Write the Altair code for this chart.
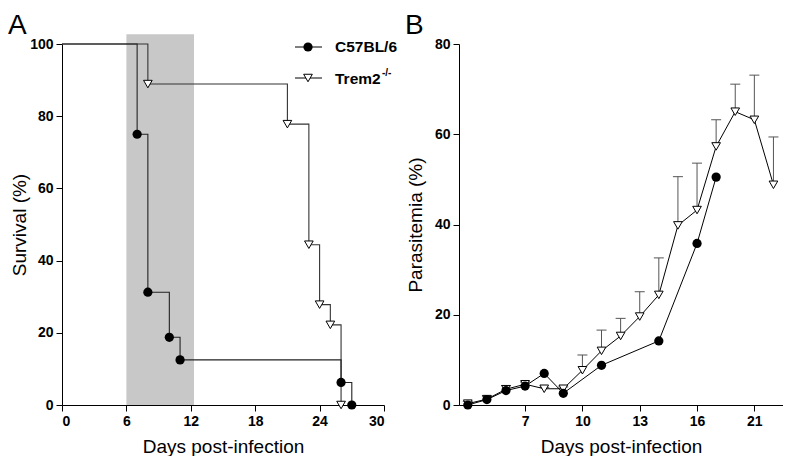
import altair as alt
import pandas as pd

FONT = "Liberation Sans"

# ---------------- Panel A: survival ----------------
a_c57_days = [0, 7, 8, 10, 11, 26, 27]
a_c57_surv = [100, 75, 31.25, 18.75, 12.5, 6.25, 0]
a_trem_days = [0, 8, 21, 23, 24, 25, 26]
a_trem_surv = [100, 88.9, 77.8, 44.4, 27.8, 22.2, 0]
shade_days = [6, 12.3]
shade_surv = [0, 102.7]
a_ticks_x = [0, 6, 12, 18, 24, 30]
a_ticks_y = [0, 20, 40, 60, 80, 100]
legend_labels = ["C57BL/6", "Trem2"]

# ---------------- Panel B: parasitemia ----------------
b_c57_days = [4, 5, 6, 7, 8, 9, 11, 14, 16, 17]
b_c57_para = [0, 1.2, 3.2, 4.2, 7.0, 2.6, 8.8, 14.2, 35.8, 50.5]
b_trem_days = [4, 5, 6, 7, 8, 9, 10, 11, 12, 13, 14, 15, 16, 17, 18, 19, 20]
b_trem_para = [0.3, 1.3, 3.5, 4.6, 3.6, 3.6, 7.7, 12.0, 15.3, 19.6, 24.4,
               39.8, 43.2, 57.3, 65.0, 63.2, 48.8]
b_trem_sd = [0.5, 0.7, 0.8, 0.5, 0.3, 0.4, 3.4, 4.6, 3.9, 5.5, 8.2,
             10.8, 10.4, 5.9, 6.1, 9.9, 10.6]
b_ticks_x = [7, 10, 13, 16, 19]
b_tick_labels = ["7", "10", "13", "16", "21"]
b_ticks_y = [0, 20, 40, 60, 80]

W_A, W_B, H = 322, 324, 361
LINE = "#222222"
ERR = "#555555"

axis_common = dict(
    grid=False, domainColor="black", tickColor="black", domainWidth=1,
    tickWidth=1, tickSize=6, labelFont=FONT, labelFontWeight="bold",
    labelFontSize=14, labelColor="black", labelPadding=3, titleFont=FONT,
    titleFontWeight="normal", titleFontSize=19, titleColor="black",
)

# ---- Panel A ----
xa = alt.Scale(domain=[0, 30], nice=False)
ya = alt.Scale(domain=[0, 100], nice=False)
ax_xa = alt.Axis(values=a_ticks_x, title="Days post-infection", titlePadding=9, **axis_common)
ax_ya = alt.Axis(values=a_ticks_y, title="Survival (%)", titlePadding=0, **axis_common)

dA_c57 = pd.DataFrame({"day": a_c57_days, "surv": a_c57_surv})
dA_trem = pd.DataFrame({"day": a_trem_days, "surv": a_trem_surv})
dA_shade = pd.DataFrame({"d1": [shade_days[0]], "d2": [shade_days[1]],
                         "s1": [shade_surv[0]], "s2": [shade_surv[1]]})

shade = alt.Chart(dA_shade).mark_rect(color="#c8c8c8").encode(
    x=alt.X("d1:Q", scale=xa, axis=ax_xa), x2="d2:Q",
    y=alt.Y("s1:Q", scale=ya, axis=ax_ya), y2="s2:Q")

step_trem = alt.Chart(dA_trem).mark_line(interpolate="step-after", color="#333333", strokeWidth=1.1).encode(
    x=alt.X("day:Q", scale=xa), y=alt.Y("surv:Q", scale=ya))
step_c57 = alt.Chart(dA_c57).mark_line(interpolate="step-after", color=LINE, strokeWidth=1.1).encode(
    x=alt.X("day:Q", scale=xa), y=alt.Y("surv:Q", scale=ya))
pts_trem = alt.Chart(dA_trem.iloc[1:]).mark_point(
    shape="triangle-down", filled=True, fill="white", stroke="black", strokeWidth=1, size=75, opacity=1
).encode(x=alt.X("day:Q", scale=xa), y=alt.Y("surv:Q", scale=ya))
pts_c57 = alt.Chart(dA_c57.iloc[1:]).mark_point(
    shape="circle", filled=True, color="black", size=85, opacity=1
).encode(x=alt.X("day:Q", scale=xa), y=alt.Y("surv:Q", scale=ya))

# manual legend (positioned relative to the right edge of the plot)
dleg = pd.DataFrame({"label": legend_labels, "row": [0, 1]})
R = W_A
leg_line = alt.Chart(dleg).mark_rule(color="black", strokeWidth=1).encode(
    x=alt.value(R - 89), x2=alt.value(R - 62), y=alt.value(3)).transform_filter("datum.row == 0")
leg_line2 = alt.Chart(dleg).mark_rule(color="black", strokeWidth=1).encode(
    x=alt.value(R - 89), x2=alt.value(R - 62), y=alt.value(34)).transform_filter("datum.row == 1")
leg_c = alt.Chart(dleg).mark_point(shape="circle", filled=True, color="black", size=85, opacity=1).encode(
    x=alt.value(R - 76), y=alt.value(3)).transform_filter("datum.row == 0")
leg_t = alt.Chart(dleg).mark_point(shape="triangle-down", filled=True, fill="white", stroke="black",
                                   strokeWidth=1, size=75, opacity=1).encode(
    x=alt.value(R - 76), y=alt.value(34)).transform_filter("datum.row == 1")
leg_txt = alt.Chart(dleg).mark_text(align="left", baseline="middle", font=FONT, fontWeight="bold",
                                    fontSize=15.5, color="black").encode(
    x=alt.value(R - 49), y=alt.value(3), text="label:N").transform_filter("datum.row == 0")
leg_txt2 = alt.Chart(dleg).mark_text(align="left", baseline="middle", font=FONT, fontWeight="bold",
                                     fontSize=15.5, color="black").encode(
    x=alt.value(R - 49), y=alt.value(35), text="label:N").transform_filter("datum.row == 1")
leg_sup = alt.Chart(dleg).mark_text(align="left", baseline="middle", font=FONT, fontWeight="bold",
                                    fontSize=10, color="black").encode(
    x=alt.value(R - 2), y=alt.value(29), text=alt.value("-/-")).transform_filter("datum.row == 1")

letterA = alt.Chart(pd.DataFrame({"t": ["A"]})).mark_text(
    align="left", baseline="alphabetic", font=FONT, fontSize=28, color="black").encode(
    x=alt.value(-54), y=alt.value(-10), text="t:N")

panelA = alt.layer(shade, step_trem, step_c57, pts_trem, pts_c57,
                   leg_line, leg_line2, leg_c, leg_t, leg_txt, leg_txt2, leg_sup, letterA
                   ).properties(width=W_A, height=H)

# ---- Panel B ----
xb = alt.Scale(domain=[3.54, 20.5], nice=False, zero=False)
yb = alt.Scale(domain=[0, 80], nice=False)
label_expr = "{" + ",".join(f"'{v}':'{l}'" for v, l in zip(b_ticks_x, b_tick_labels)) + "}[datum.value]"
ax_xb = alt.Axis(values=b_ticks_x, labelExpr=label_expr, title="Days post-infection", titlePadding=9, **axis_common)
ax_yb = alt.Axis(values=b_ticks_y, title="Parasitemia (%)", titlePadding=9, **axis_common)

dB_c57 = pd.DataFrame({"day": b_c57_days, "p": b_c57_para})
dB_trem = pd.DataFrame({"day": b_trem_days, "p": b_trem_para, "sd": b_trem_sd})

baseB = alt.Chart(dB_trem).transform_calculate(up="datum.p + datum.sd")
err = baseB.mark_rule(color=ERR, strokeWidth=1).encode(
    x=alt.X("day:Q", scale=xb, axis=ax_xb), y=alt.Y("p:Q", scale=yb, axis=ax_yb), y2="up:Q")
cap = baseB.mark_tick(color=ERR, orient="horizontal", size=10, thickness=1, opacity=1).encode(
    x=alt.X("day:Q", scale=xb), y=alt.Y("up:Q", scale=yb))
line_trem = alt.Chart(dB_trem).mark_line(color="black", strokeWidth=1).encode(
    x=alt.X("day:Q", scale=xb), y=alt.Y("p:Q", scale=yb))
line_c57 = alt.Chart(dB_c57).mark_line(color="black", strokeWidth=1).encode(
    x=alt.X("day:Q", scale=xb), y=alt.Y("p:Q", scale=yb))
ptsB_trem = alt.Chart(dB_trem).mark_point(
    shape="triangle-down", filled=True, fill="white", stroke="black", strokeWidth=1, size=75, opacity=1
).encode(x=alt.X("day:Q", scale=xb), y=alt.Y("p:Q", scale=yb))
ptsB_c57 = alt.Chart(dB_c57).mark_point(
    shape="circle", filled=True, color="black", size=85, opacity=1
).encode(x=alt.X("day:Q", scale=xb), y=alt.Y("p:Q", scale=yb))

letterB = alt.Chart(pd.DataFrame({"t": ["B"]})).mark_text(
    align="left", baseline="alphabetic", font=FONT, fontSize=28, color="black").encode(
    x=alt.value(-54), y=alt.value(-10), text="t:N")

panelB = alt.layer(err, cap, line_trem, line_c57, ptsB_trem, ptsB_c57, letterB
                   ).properties(width=W_B, height=H)

chart = (alt.hconcat(panelA, panelB, spacing=7)
         .configure(background="white", padding={"top": 4, "left": 0, "right": 0, "bottom": 0})
         .configure_view(stroke=None))

chart.save("out.html", embed_options={"renderer": "svg", "actions": False})
